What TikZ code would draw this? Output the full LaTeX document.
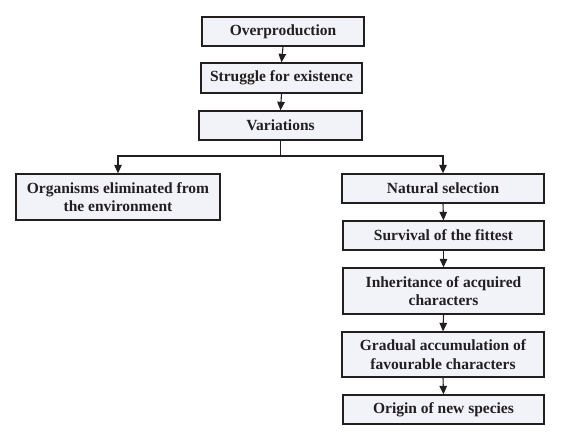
\documentclass[tikz,border=0pt]{standalone}
\usepackage{fontspec}
\setmainfont{Liberation Serif}
\usetikzlibrary{arrows.meta}
\definecolor{boxfill}{RGB}{242,242,249}
\definecolor{ink}{RGB}{35,31,32}
\begin{document}
\begin{tikzpicture}[x=1pt,y=-1pt,
  box/.style={draw=ink,line width=1.3pt,fill=boxfill,text=ink,inner sep=0pt,
    font=\fontsize{15.5}{18.5}\selectfont\bfseries,align=center},
  arr/.style={draw=ink,line width=1.1pt,-{Triangle[length=8.5pt,width=7.5pt]}},
  ln/.style={draw=ink,line width=1.1pt}]
\useasboundingbox (0,0) rectangle (562,434);
\node[box,minimum width=162pt,minimum height=29pt] (over) at (283,31.5) {Overproduction};
\node[box,minimum width=161pt,minimum height=30pt] (strug) at (281.5,78) {Struggle for existence};
\node[box,minimum width=163pt,minimum height=29pt] (var) at (280.5,125.5) {Variations};
\node[box,minimum width=204pt,minimum height=46pt] (org) at (118,197) {Organisms eliminated from\\the environment};
\node[box,minimum width=202pt,minimum height=29pt] (nat) at (443,188.5) {Natural selection};
\node[box,minimum width=201pt,minimum height=29pt] (surv) at (443.5,235.5) {Survival of the fittest};
\node[box,minimum width=201pt,minimum height=46pt] (inh) at (443.5,291) {Inheritance of acquired\\characters};
\node[box,minimum width=202pt,minimum height=45pt] (grad) at (443,354.5) {Gradual accumulation of\\favourable characters};
\node[box,minimum width=201pt,minimum height=29pt] (orig) at (443.5,409.5) {Origin of new species};
\coordinate (j) at (280.5,156);
\draw[arr] (over.south) -- (strug.north);
\draw[arr] (strug.south) -- (var.north);
\draw[ln] (var.south) -- (j);
\draw[arr] (j) -| (org.north);
\draw[arr] (j) -| (nat.north);
\draw[arr] (nat.south) -- (surv.north);
\draw[arr] (surv.south) -- (inh.north);
\draw[arr] (inh.south) -- (grad.north);
\draw[arr] (grad.south) -- (orig.north);
\end{tikzpicture}
\end{document}
